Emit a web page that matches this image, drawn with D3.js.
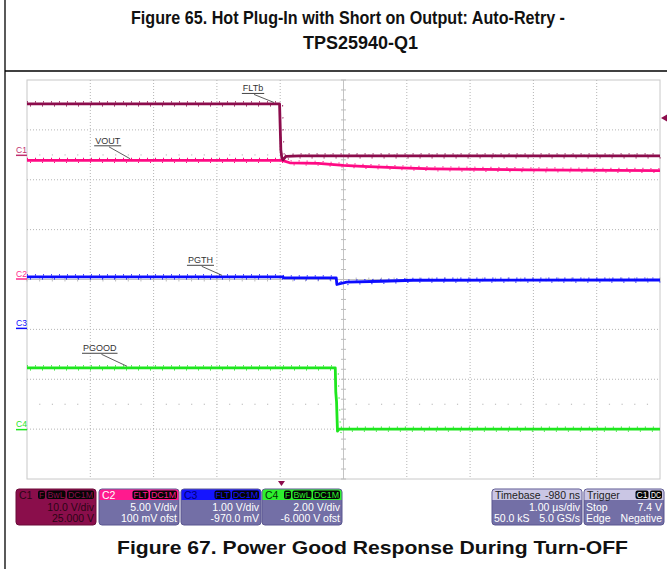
<!DOCTYPE html>
<html>
<head>
<meta charset="utf-8">
<script src="https://cdn.jsdelivr.net/npm/d3@7"></script>
<style>
  body { margin: 0; background: #fff; }
  svg { display: block; font-family: Arial, "Liberation Sans", sans-serif; }
</style>
</head>
<body>
<svg id="chart" width="667" height="569"></svg>
<script>
// ---- Scope settings (from the channel readouts) ----
const channelIds      = ["C1", "C2", "C3", "C4"];
const channelVoltsDiv = [10, 5, 1, 2];          // V/div
const channelOffset   = [25, 0.1, -0.97, -6];   // V offset
const channelColors   = ["#8c0c4c", "#ff0a84", "#0c0cff", "#1ee61e"];

// ---- Waveforms: time in µs, amplitude in volts ----
const fltbTime  = [0, 3.99, 4.01, 4.025, 4.045, 4.09, 4.3, 10];
const fltbVolts = [10.2, 10.2, 1.0, -0.5, -1.0, -0.3, -0.2, -0.2];

const voutTime  = [0, 4.03, 4.15, 4.6, 5.0, 5.3, 5.9, 6.4, 7.9, 10];
const voutVolts = [11.85, 11.85, 11.6, 11.55, 11.35, 11.25, 11.1, 11.0, 10.9, 10.82];

const pgthTime  = [0, 4.03, 4.06, 4.885, 4.895, 4.96, 5.05, 5.6, 6.1, 10];
const pgthVolts = [1.024, 1.024, 1.004, 1.004, 0.87, 0.89, 0.916, 0.935, 0.955, 0.96];

const pgoodTime  = [0, 4.87, 4.878, 4.89, 4.905, 4.93, 10];
const pgoodVolts = [2.46, 2.46, 1.48, 1.1, -0.08, 0.0, 0.0];

// ---- Trace labels ----
const labelText    = ["FLTb", "VOUT", "PGTH", "PGOOD"];
const labelChannel = [0, 1, 2, 3];
const labelAtTime  = [3.9, 1.63, 3.08, 1.58];

// ---- Trigger ----
const triggerTime  = 4.02;   // µs
const triggerLevel = 7.4;    // V on C1

// ---- Readout boxes ----
const chanBadges = [["F", "BwL", "DC1M"], ["FLT", "DC1M"], ["FLT", "DC1M"], ["F", "BwL", "DC1M"]];
const chanLine1  = ["10.0 V/div", "5.00 V/div", "1.00 V/div", "2.00 V/div"];
const chanLine2  = ["25.000 V", "100 mV ofst", "-970.0 mV", "-6.000 V ofst"];
const timebaseText = { head: ["Timebase", "-980 ns"], row1: ["", "1.00 µs/div"], row2: ["50.0 kS", "5.0 GS/s"] };
const triggerText  = { head: ["Trigger"], badges: ["C1", "DC"], row1: ["Stop", "7.4 V"], row2: ["Edge", "Negative"] };

const titleLines = ["Figure 65. Hot Plug-In with Short on Output: Auto-Retry -", "TPS25940-Q1"];
const captionText = "Figure 67. Power Good Response During Turn-OFF";

// ================= drawing =================
const svg = d3.select("#chart");
const plot = { left: 27, right: 660, top: 80, bottom: 479 };

const x = d3.scaleLinear().domain([0, 10]).range([plot.left, plot.right]);
const yDiv = d3.scaleLinear().domain([-4, 4]).range([plot.bottom, plot.top]);
const yVolt = (ch, v) => yDiv((v + channelOffset[ch]) / channelVoltsDiv[ch]);

// page frame and title
svg.append("line").attr("x1", 5).attr("x2", 5).attr("y1", 0).attr("y2", 569)
  .attr("stroke", "#000").attr("stroke-width", 1.3);
svg.append("line").attr("x1", 5).attr("x2", 667).attr("y1", 71).attr("y2", 71)
  .attr("stroke", "#000").attr("stroke-width", 1.3);

svg.append("text").attr("x", 131).attr("y", 24).text(titleLines[0])
  .attr("font-family", "'Liberation Sans Narrow', 'Arial Narrow', Arial, sans-serif")
  .attr("font-weight", "bold").attr("font-size", 19).attr("fill", "#111")
  .attr("textLength", 434).attr("lengthAdjust", "spacingAndGlyphs");
svg.append("text").attr("x", 303).attr("y", 49).text(titleLines[1])
  .attr("font-family", "'Liberation Sans Narrow', 'Arial Narrow', Arial, sans-serif")
  .attr("font-weight", "bold").attr("font-size", 19).attr("fill", "#111")
  .attr("textLength", 115).attr("lengthAdjust", "spacingAndGlyphs");

svg.append("text").attr("x", 117).attr("y", 554).text(captionText)
  .attr("font-weight", "bold").attr("font-size", 18.5).attr("fill", "#111")
  .attr("textLength", 511).attr("lengthAdjust", "spacingAndGlyphs");

// graticule
const g = svg.append("g");
g.append("rect").attr("x", plot.left).attr("y", plot.top)
  .attr("width", plot.right - plot.left).attr("height", plot.bottom - plot.top)
  .attr("fill", "#fff").attr("stroke", "#c8c8c8").attr("stroke-width", 1);

const xDivs = d3.range(1, 10);
const yDivs = d3.range(-3, 4);
g.selectAll(".vg").data(xDivs.filter(d => d !== 5)).join("line")
  .attr("x1", d => x(d)).attr("x2", d => x(d)).attr("y1", plot.top).attr("y2", plot.bottom)
  .attr("stroke", "#b4b4b4").attr("stroke-width", 1).attr("stroke-dasharray", "1,2");
g.selectAll(".hg").data(yDivs.filter(d => d !== 0)).join("line")
  .attr("x1", plot.left).attr("x2", plot.right).attr("y1", d => yDiv(d)).attr("y2", d => yDiv(d))
  .attr("stroke", "#b4b4b4").attr("stroke-width", 1).attr("stroke-dasharray", "1,2");

// centre axes with minor ticks
g.append("line").attr("x1", x(5)).attr("x2", x(5)).attr("y1", plot.top).attr("y2", plot.bottom)
  .attr("stroke", "#c4c4c4").attr("stroke-width", 1);
g.append("line").attr("x1", plot.left).attr("x2", plot.right).attr("y1", yDiv(0)).attr("y2", yDiv(0))
  .attr("stroke", "#c4c4c4").attr("stroke-width", 1);
g.selectAll(".vt").data(d3.range(-4, 4.001, 0.2)).join("line")
  .attr("x1", x(5) - 2.5).attr("x2", x(5) + 2.5).attr("y1", d => yDiv(d)).attr("y2", d => yDiv(d))
  .attr("stroke", "#bdbdbd").attr("stroke-width", 1);
g.selectAll(".ht").data(d3.range(0, 10.001, 0.2)).join("line")
  .attr("x1", d => x(d)).attr("x2", d => x(d)).attr("y1", yDiv(0) - 2).attr("y2", yDiv(0) + 2)
  .attr("stroke", "#bdbdbd").attr("stroke-width", 1);
// dotted quarter rows
[2.5, -2.5].forEach(r => {
  g.selectAll(null).data(d3.range(0.2, 10, 0.2)).join("rect")
    .attr("x", d => x(d) - 0.5).attr("y", yDiv(r) - 0.5).attr("width", 1.2).attr("height", 1.2)
    .attr("fill", "#c2c2c2");
});

// traces
const traces = [
  { ch: 1, t: voutTime, v: voutVolts },
  { ch: 0, t: fltbTime, v: fltbVolts },
  { ch: 2, t: pgthTime, v: pgthVolts },
  { ch: 3, t: pgoodTime, v: pgoodVolts }
];
traces.forEach(tr => {
  const pts = tr.t.map((t, i) => [x(t), yVolt(tr.ch, tr.v[i])]);
  const line = d3.line();
  const col = channelColors[tr.ch];
  g.append("path").attr("d", line(pts)).attr("fill", "none")
    .attr("stroke", col).attr("stroke-width", 2.8).attr("stroke-linejoin", "round");
  // noise speckle above/below the trace
  g.append("path").attr("d", line(pts)).attr("fill", "none")
    .attr("transform", "translate(0,-2)")
    .attr("stroke", col).attr("stroke-width", 1.2).attr("stroke-dasharray", "1,7");
  g.append("path").attr("d", line(pts)).attr("fill", "none")
    .attr("transform", "translate(3,2)")
    .attr("stroke", col).attr("stroke-width", 1.2).attr("stroke-dasharray", "1,11");
});

// channel ground markers
channelIds.forEach((id, i) => {
  const yy = yVolt(i, 0);
  const col = i === 0 ? "#c0306e" : i === 1 ? "#ff2a8c" : channelColors[i];
  svg.append("text").attr("x", 16).attr("y", yy - 2).text(id)
    .attr("font-size", 8.5).attr("fill", col);
  svg.append("line").attr("x1", 16).attr("x2", plot.left).attr("y1", yy + 0.5).attr("y2", yy + 0.5)
    .attr("stroke", col).attr("stroke-width", 1.5);
});

// trigger markers
svg.append("path")
  .attr("d", `M${plot.right + 1},${yVolt(0, triggerLevel)} l6,-3.5 l0,7 z`)
  .attr("fill", channelColors[0]);
svg.append("path")
  .attr("d", `M${x(triggerTime)},${plot.bottom + 7} l-3.5,-5 l7,0 z`)
  .attr("fill", channelColors[0]);

// trace labels with leaders
const labelOffsets = [[-31, -11], [-35, -15], [-34, -12], [-44, -15]];
labelText.forEach((txt, i) => {
  const tr = traces.find(t => t.ch === labelChannel[i]);
  const px = x(labelAtTime[i]);
  const py = yVolt(tr.ch, d3.scaleLinear().domain(tr.t).range(tr.v)(labelAtTime[i])) - 1.5;
  const tx = px + labelOffsets[i][0], ty = py + labelOffsets[i][1];
  const t = svg.append("text").attr("x", tx).attr("y", ty).text(txt)
    .attr("font-size", 9).attr("fill", "#333");
  const w = t.node().getComputedTextLength();
  svg.append("line").attr("x1", tx - 1).attr("x2", tx + w + 1).attr("y1", ty + 2).attr("y2", ty + 2)
    .attr("stroke", "#444").attr("stroke-width", 1);
  svg.append("line").attr("x1", tx + w * 0.55).attr("y1", ty + 3).attr("x2", px).attr("y2", py)
    .attr("stroke", "#333").attr("stroke-width", 0.8);
});

// ---- readout boxes ----
const boxY = 489, boxH = 36, headH = 11;
const bodyFill = "#736fa6";
const headFills = ["#8a0e4b", "#ff1a8e", "#1515ff", "#2ef02e"];
const headTextCol = ["#2a0515", "#ffffff", "#00007a", "#053005"];
const chanBoxX = [16, 99, 181, 262], chanBoxW = 80;

function badges(parent, labels, right, y, fg) {
  let xr = right;
  const widths = { "F": 7, "BwL": 19, "DC1M": 27, "FLT": 16, "C1": 13, "DC": 12 };
  for (let k = labels.length - 1; k >= 0; k--) {
    const w = widths[labels[k]] || 14;
    xr -= w;
    parent.append("rect").attr("x", xr).attr("y", y + 1.5).attr("width", w).attr("height", 8.5)
      .attr("rx", 2).attr("fill", "#050505");
    parent.append("text").attr("x", xr + w / 2).attr("y", y + 8.8).text(labels[k])
      .attr("text-anchor", "middle").attr("font-size", 8.5).attr("fill", fg)
      .attr("textLength", w - 2).attr("lengthAdjust", "spacingAndGlyphs");
    xr -= 1.5;
  }
}

channelIds.forEach((id, i) => {
  const bx = chanBoxX[i];
  const b = svg.append("g");
  const full = i === 0;
  b.append("rect").attr("x", bx).attr("y", boxY).attr("width", chanBoxW).attr("height", boxH)
    .attr("rx", 3).attr("fill", full ? headFills[0] : bodyFill)
    .attr("stroke", full ? "#6a0a38" : "#5b5790").attr("stroke-width", 1);
  if (!full) {
    b.append("path")
      .attr("d", `M${bx + 0.5},${boxY + headH} V${boxY + 3} q0,-2.5 2.5,-2.5 H${bx + chanBoxW - 3} q2.5,0 2.5,2.5 V${boxY + headH} Z`)
      .attr("fill", headFills[i]);
  }
  b.append("text").attr("x", bx + 3).attr("y", boxY + 9.5).text(id)
    .attr("font-size", 10.5).attr("fill", headTextCol[i]);
  badges(b, chanBadges[i], bx + chanBoxW - 2, boxY, headFills[i]);
  const tc = full ? "#2a0515" : "#ffffff";
  b.append("text").attr("x", bx + chanBoxW - 2).attr("y", boxY + 21.5).text(chanLine1[i])
    .attr("text-anchor", "end").attr("font-size", 10.5).attr("fill", tc);
  b.append("text").attr("x", bx + chanBoxW - 2).attr("y", boxY + 33).text(chanLine2[i])
    .attr("text-anchor", "end").attr("font-size", 10.5).attr("fill", tc);
});

function infoBox(bx, bw, spec) {
  const b = svg.append("g");
  b.append("rect").attr("x", bx).attr("y", boxY).attr("width", bw).attr("height", boxH)
    .attr("rx", 3).attr("fill", bodyFill).attr("stroke", "#5b5790").attr("stroke-width", 1);
  b.append("path")
    .attr("d", `M${bx + 0.5},${boxY + headH} V${boxY + 3} q0,-2.5 2.5,-2.5 H${bx + bw - 3} q2.5,0 2.5,2.5 V${boxY + headH} Z`)
    .attr("fill", "#cac6e4");
  b.append("text").attr("x", bx + 3).attr("y", boxY + 9.5).text(spec.head[0])
    .attr("font-size", 10.5).attr("fill", "#222");
  if (spec.head[1]) b.append("text").attr("x", bx + bw - 2).attr("y", boxY + 9.5).text(spec.head[1])
    .attr("text-anchor", "end").attr("font-size", 10.5).attr("fill", "#222");
  if (spec.badges) badges(b, spec.badges, bx + bw - 2, boxY, "#ffffff");
  [spec.row1, spec.row2].forEach((row, k) => {
    const yy = boxY + (k === 0 ? 21.5 : 33);
    if (row[0]) b.append("text").attr("x", bx + 2).attr("y", yy).text(row[0])
      .attr("font-size", 10.5).attr("fill", "#fff");
    b.append("text").attr("x", bx + bw - 2).attr("y", yy).text(row[1])
      .attr("text-anchor", "end").attr("font-size", 10.5).attr("fill", "#fff");
  });
}
infoBox(492, 90, timebaseText);
infoBox(584, 80, triggerText);
</script>
</body>
</html>
